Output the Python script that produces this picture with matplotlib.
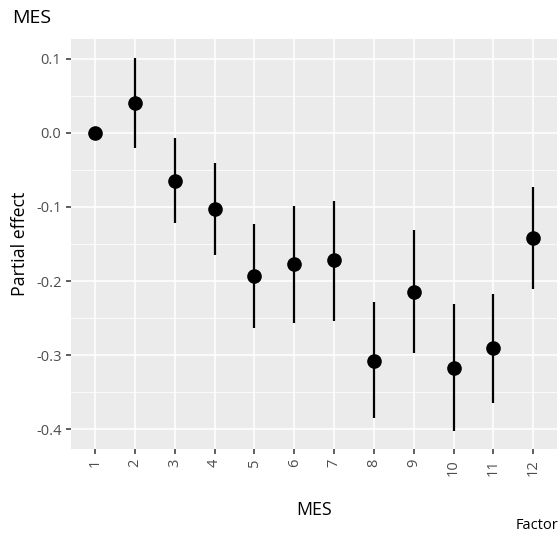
import numpy as np
import matplotlib
matplotlib.use("Agg")
import matplotlib.pyplot as plt
from matplotlib.ticker import MultipleLocator

plt.rcParams['font.family'] = ['Open Sans', 'DejaVu Sans']

# data
levels = ["1", "2", "3", "4", "5", "6", "7", "8", "9", "10", "11", "12"]
effect = [0.0, 0.041, -0.065, -0.103, -0.193, -0.177, -0.172, -0.308, -0.215, -0.318, -0.291, -0.142]
lower = [0.0, -0.020, -0.121, -0.165, -0.264, -0.257, -0.254, -0.385, -0.297, -0.403, -0.365, -0.211]
upper = [0.0, 0.101, -0.007, -0.040, -0.123, -0.099, -0.092, -0.229, -0.131, -0.231, -0.217, -0.073]

x = np.arange(1, len(levels) + 1)

fig = plt.figure(figsize=(5.6, 5.41), dpi=100)
ax = fig.add_axes([0.127, 0.170, 0.868, 0.758])
ax.set_facecolor("#EBEBEB")
for s in ax.spines.values():
    s.set_visible(False)

# grid
ax.yaxis.set_major_locator(MultipleLocator(0.1))
ax.yaxis.set_minor_locator(MultipleLocator(0.05))
ax.grid(which="major", color="white", linewidth=1.1)
ax.grid(which="minor", axis="y", color="white", linewidth=0.55)
ax.set_axisbelow(True)

# error bars + points
ax.vlines(x, lower, upper, color="black", linewidth=1.6)
ax.plot(x, effect, "o", color="black", markersize=9.5)

ax.set_xlim(0.4, 12.6)
ax.set_ylim(-0.427, 0.127)
ax.set_xticks(x)
ax.set_xticklabels(levels, rotation=90)
ax.set_yticklabels(["%.1f" % v for v in ax.get_yticks()])
ax.tick_params(which="major", colors="#333333", length=3.5, width=1.1, labelsize=10.5,
               labelcolor="#4D4D4D")
ax.tick_params(which="minor", length=0)
ax.set_ylim(-0.427, 0.127)

ax.set_ylabel("Partial effect", fontsize=12.8, labelpad=5)
ax.set_xlabel("MES", fontsize=12.8, labelpad=18)
fig.text(0.021, 0.967, "MES", fontsize=14, va="center", ha="left")
fig.text(0.997, 0.014, "Factor", fontsize=10.5, va="bottom", ha="right")

fig.savefig("out.png", dpi=100)
